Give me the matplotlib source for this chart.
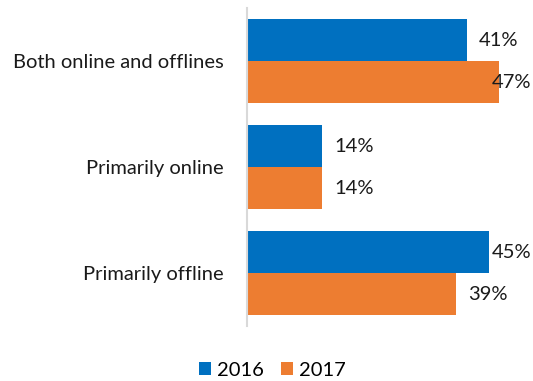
import numpy as np
import matplotlib
matplotlib.use('Agg')
import matplotlib.pyplot as plt

categories = ['Both online and offlines', 'Primarily online', 'Primarily offline']
share_2016 = [41, 14, 45]
share_2017 = [47, 14, 39]
years = ['2016', '2017']

blue = '#0070C0'
orange = '#ED7D31'

plt.rcParams['font.family'] = ['Lato', 'DejaVu Sans']
fs = 14.5

W, H = 533, 381
fig = plt.figure(figsize=(W / 100, H / 100), dpi=100)
# axes placed in pixel terms: left edge at 247px, top 8px, bottom 326px
ax = fig.add_axes([247 / W, 1 - 326 / H, 1 - 247 / W, 318 / H])

y = np.arange(len(categories)) + 0.5
bh = 42 / 106
b1 = ax.barh(y - bh / 2, share_2016, height=bh, color=blue, label=years[0])
b2 = ax.barh(y + bh / 2, share_2017, height=bh, color=orange, label=years[1])

ax.set_xlim(0, (W - 247) / 5.37)
ax.set_ylim(3, 0)

for s in ['top', 'right', 'bottom']:
    ax.spines[s].set_visible(False)
ax.spines['left'].set_color('#d9d9d9')
ax.spines['left'].set_linewidth(1.5)
ax.set_xticks([])
ax.set_yticks(y)
ax.set_yticklabels(categories, fontsize=fs, color='#1a1a1a')
ax.tick_params(axis='y', length=0, pad=16.5)

fig.canvas.draw()
renderer = fig.canvas.get_renderer()
labels = []
for bars, vals in [(b1, share_2016), (b2, share_2017)]:
    for bar, v in zip(bars, vals):
        yc = bar.get_y() + bar.get_height() / 2
        t = ax.text(v + 12 / 5.37, yc, f'{v}%', va='center', ha='left',
                    fontsize=fs, color='#1a1a1a', clip_on=False)
        labels.append(t)

fig.canvas.draw()
# keep labels inside the figure's right edge
for t in labels:
    bb = t.get_window_extent(renderer)
    if bb.x1 > W - 2:
        shift = (bb.x1 - (W - 2)) / 5.37
        x, yy = t.get_position()
        t.set_position((x - shift, yy))

fig.legend(handles=[b1, b2], labels=years, loc='lower center',
           bbox_to_anchor=(272 / W, -0.015), ncol=2, frameon=False,
           fontsize=fs, handlelength=0.6, handleheight=0.6,
           handletextpad=0.3, columnspacing=0.85, borderaxespad=0)

fig.savefig('out.png', dpi=100)
